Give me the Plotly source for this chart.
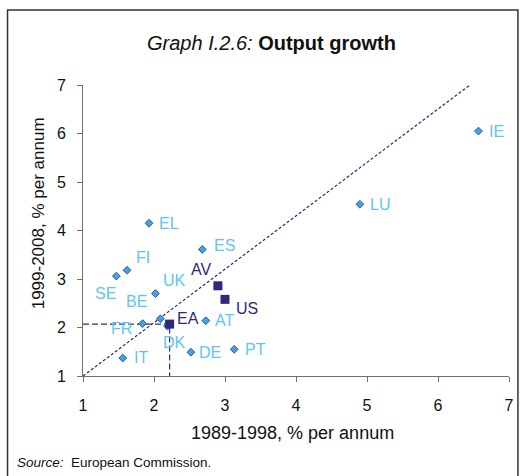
import plotly.graph_objects as go

# ---- data ----
countries = ["EL", "ES", "FI", "SE", "UK", "BE", "FR", "DK", "IT", "DE", "AT", "PT", "LU", "IE"]
growth_89_98 = [1.93, 2.68, 1.62, 1.47, 2.02, 2.09, 1.84, 2.19, 1.56, 2.52, 2.73, 3.13, 4.90, 6.57]
growth_99_08 = [4.15, 3.61, 3.18, 3.06, 2.70, 2.18, 2.08, 2.03, 1.37, 1.49, 2.14, 1.55, 4.54, 6.05]

aggregates = ["EA", "AV", "US"]
agg_89_98 = [2.22, 2.90, 3.00]
agg_99_08 = [2.07, 2.86, 2.58]

trend_x = [1.0, 6.45]
trend_y = [1.0, 7.0]

tick_vals = [1, 2, 3, 4, 5, 6, 7]

# ---- style ----
FONT = "Liberation Sans, Arial, sans-serif"
LIGHT = "#5CC6F2"
NAVY = "#2D2A7C"
label_offsets = {  # pixel offsets (dx, dy up)
    "EL": (20, 0), "ES": (22, 4), "FI": (16, 13), "SE": (-11, -17),
    "UK": (19, 13), "BE": (-24, 17), "FR": (-21, -5), "DK": (7, -16),
    "IT": (18, 1), "DE": (19, 0), "AT": (19, 0), "PT": (21, 0),
    "LU": (20, 0), "IE": (18, 0),
    "EA": (18, 6), "AV": (-17, 16), "US": (22, -9),
}

L, R, T, B = 83, 14, 85, 100
PW, PH = 526 - L - R, 476 - T - B


def px(xp):
    return (xp - L) / PW


def py(yp):
    return (476 - B - yp) / PH


fig = go.Figure()

fig.add_trace(go.Scatter(x=trend_x, y=trend_y, mode="lines",
                         line=dict(color=NAVY, width=1.2, dash="3px,2px"),
                         hoverinfo="skip", showlegend=False))

ea_x, ea_y = agg_89_98[0], agg_99_08[0]
fig.add_trace(go.Scatter(x=[1, ea_x, ea_x], y=[ea_y, ea_y, 1], mode="lines",
                         line=dict(color=NAVY, width=1.2, dash="6px,3px"),
                         hoverinfo="skip", showlegend=False))

fig.add_trace(go.Scatter(x=growth_89_98, y=growth_99_08, mode="markers",
                         marker=dict(symbol="diamond", size=6, color="#4A9FE0",
                                     line=dict(color="#1F5FA8", width=1)),
                         text=countries, showlegend=False))

fig.add_trace(go.Scatter(x=agg_89_98, y=agg_99_08, mode="markers",
                         marker=dict(symbol="square", size=9, color=NAVY),
                         text=aggregates, showlegend=False))

annotations = []
for name, x, y in zip(countries, growth_89_98, growth_99_08):
    dx, dy = label_offsets[name]
    annotations.append(dict(x=x, y=y, xref="x", yref="y", text=name, showarrow=False,
                            xshift=dx, yshift=dy, xanchor="center", yanchor="middle",
                            font=dict(family=FONT, size=16, color=LIGHT)))
for name, x, y in zip(aggregates, agg_89_98, agg_99_08):
    dx, dy = label_offsets[name]
    annotations.append(dict(x=x, y=y, xref="x", yref="y", text=name, showarrow=False,
                            xshift=dx, yshift=dy, xanchor="center", yanchor="middle",
                            font=dict(family=FONT, size=16, color=NAVY)))

annotations.append(dict(xref="paper", yref="paper", x=px(273), y=py(43),
                        xanchor="center", yanchor="middle",
                        text="<i>Graph I.2.6:</i> <b>Output growth</b>", showarrow=False,
                        font=dict(family=FONT, size=20, color="#111111")))
annotations.append(dict(xref="paper", yref="paper", x=px(294), y=py(433),
                        xanchor="center", yanchor="middle",
                        text="1989-1998, % per annum", showarrow=False,
                        font=dict(family=FONT, size=18, color="#111111")))
annotations.append(dict(xref="paper", yref="paper", x=px(38), y=py(213),
                        xanchor="center", yanchor="middle",
                        text="1999-2008, % per annum", showarrow=False, textangle=-90,
                        font=dict(family=FONT, size=17, color="#111111")))
annotations.append(dict(xref="paper", yref="paper", x=px(15), y=py(462),
                        xanchor="left", yanchor="middle",
                        text="<i>Source:</i>  European Commission.",
                        showarrow=False, font=dict(family=FONT, size=13.5, color="#111111")))

fig.update_layout(
    width=526, height=476,
    margin=dict(l=L, r=R, t=T, b=B),
    paper_bgcolor="white", plot_bgcolor="white",
    font=dict(family=FONT, size=16, color="#111111"),
    annotations=annotations,
    shapes=[dict(type="rect", xref="paper", yref="paper",
                 x0=px(7), x1=px(521), y0=py(490), y1=py(10),
                 line=dict(color="#333333", width=1.5), fillcolor="rgba(0,0,0,0)",
                 layer="below")],
)
fig.update_xaxes(range=[1, 7], tickvals=tick_vals, showgrid=False, zeroline=False,
                 showline=True, linecolor="#707070", linewidth=1,
                 ticks="outside", ticklen=5, tickcolor="#707070",
                 ticklabelstandoff=10,
                 tickfont=dict(family=FONT, size=16, color="#111111"))
fig.update_yaxes(range=[1, 7], tickvals=tick_vals, showgrid=False, zeroline=False,
                 showline=True, linecolor="#707070", linewidth=1,
                 ticks="outside", ticklen=5, tickcolor="#707070",
                 ticklabelstandoff=8,
                 tickfont=dict(family=FONT, size=16, color="#111111"))

fig.write_html("out.html", config={"displayModeBar": False},
               post_script="document.body.style.margin='0';document.body.style.overflow='hidden';")
